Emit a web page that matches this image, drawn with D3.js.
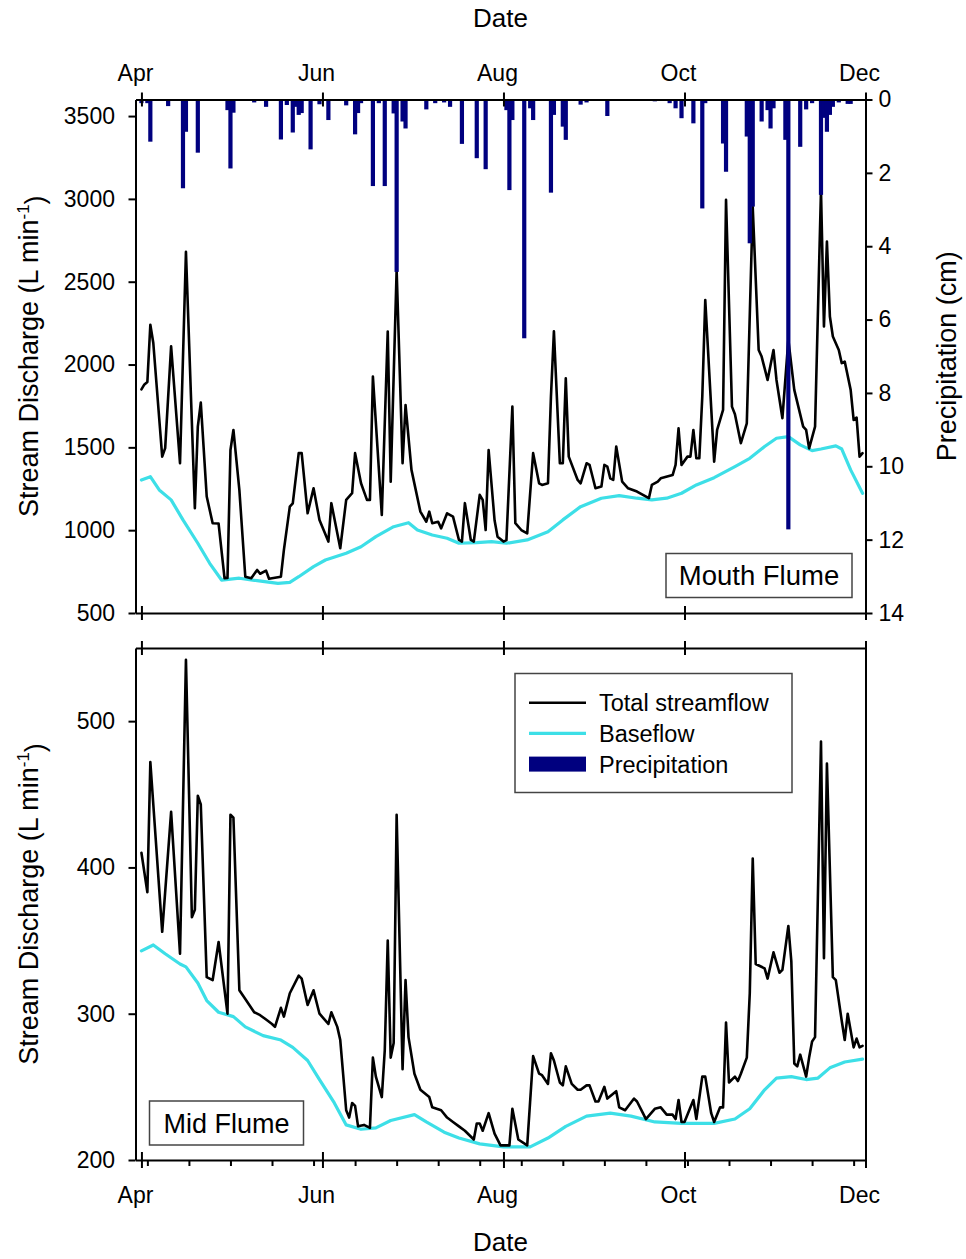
<!DOCTYPE html>
<html>
<head>
<meta charset="utf-8">
<script src="https://cdn.jsdelivr.net/npm/d3@7"></script>
<style>
  body { margin: 0; background: #fff; }
  svg { display: block; font-family: "Liberation Sans", Arial, Helvetica, sans-serif; }
</style>
</head>
<body>
<svg id="chart" width="966" height="1259"></svg>
<script>
// ---- data -------------------------------------------------------------
const year = 2011;
const monthTicks = ["4-1", "6-1", "8-1", "10-1", "12-1"];
const mouthTicks = [500, 1000, 1500, 2000, 2500, 3000, 3500];
const precipTicks = [0, 2, 4, 6, 8, 10, 12, 14];
const midTicks = [200, 300, 400, 500];

// Mouth flume: total streamflow (L/min)
const mouthTotal = [
  ["4-1",1850],["4-2",1880],["4-3",1895],["4-4",2240],["4-5",2130],["4-8",1444],["4-9",1495],
  ["4-11",2110],["4-14",1404],["4-16",2680],["4-19",1132],["4-20",1625],["4-21",1770],["4-23",1203],
  ["4-25",1042],["4-27",1040],["4-29",710],["4-30",712],["5-1",1484],["5-2",1605],["5-4",1243],
  ["5-6",719],["5-8",710],["5-10",760],["5-11",737],["5-13",756],["5-14",707],["5-16",713],
  ["5-18",719],["5-19",880],["5-21",1142],["5-22",1162],["5-24",1465],["5-25",1465],["5-27",1102],
  ["5-29",1253],["5-31",1062],["6-3",931],["6-4",1163],["6-7",891],["6-9",1183],["6-11",1223],
  ["6-12",1465],["6-14",1283],["6-16",1183],["6-17",1183],["6-18",1927],["6-21",1092],["6-23",2199],
  ["6-24",1293],["6-26",2570],["6-28",1404],["6-29",1756],["7-1",1364],["7-4",1112],["7-6",1051],
  ["7-7",1112],["7-8",1042],["7-10",1051],["7-11",1011],["7-13",1102],["7-15",1082],["7-17",941],
  ["7-18",931],["7-19",1163],["7-21",941],["7-22",931],["7-24",1213],["7-25",1183],["7-26",1001],
  ["7-27",1484],["7-29",1060],["7-30",961],["8-1",931],["8-2",940],["8-4",1746],["8-5",1042],
  ["8-7",1001],["8-9",981],["8-11",1465],["8-13",1283],["8-14",1273],["8-16",1283],["8-17",1806],
  ["8-18",2200],["8-20",1404],["8-21",1404],["8-22",1917],["8-23",1444],["8-26",1303],["8-27",1283],
  ["8-29",1404],["8-30",1394],["8-31",1324],["9-1",1253],["9-3",1263],["9-4",1394],["9-5",1384],
  ["9-6",1313],["9-7",1303],["9-8",1505],["9-10",1293],["9-12",1253],["9-15",1233],["9-17",1213],
  ["9-19",1193],["9-20",1273],["9-22",1293],["9-23",1313],["9-27",1333],["9-28",1394],["9-29",1615],
  ["9-30",1394],["10-2",1444],["10-3",1444],["10-4",1605],["10-5",1434],["10-6",1434],["10-7",1806],
  ["10-8",2390],["10-11",1414],["10-12",1605],["10-14",1726],["10-15",2994],["10-17",1746],
  ["10-18",1700],["10-20",1525],["10-22",1645],["10-24",2950],["10-26",2088],["10-27",2048],
  ["10-29",1907],["10-31",2088],["11-1",1907],["11-3",1676],["11-5",2150],["11-7",1847],
  ["11-10",1625],["11-11",1605],["11-12",1494],["11-14",1625],["11-16",3054],["11-17",2230],
  ["11-18",2743],["11-19",2290],["11-20",2169],["11-22",2088],["11-23",2008],["11-24",2018],
  ["11-26",1847],["11-27",1666],["11-28",1680],["11-29",1444],["11-30",1465]
];

// Mouth flume: baseflow (L/min)
const mouthBase = [
  ["4-1",1303],["4-4",1323],["4-7",1243],["4-11",1183],["4-15",1062],["4-20",921],["4-24",800],
  ["4-28",699],["5-4",710],["5-10",695],["5-17",679],["5-21",685],["5-24",719],["5-29",780],
  ["6-2",820],["6-9",861],["6-14",900],["6-19",961],["6-25",1021],["6-30",1045],["7-3",1001],
  ["7-8",971],["7-13",951],["7-17",921],["7-23",925],["7-28",931],["8-2",921],["8-9",941],
  ["8-16",991],["8-21",1062],["8-27",1142],["9-3",1193],["9-9",1209],["9-15",1193],["9-20",1183],
  ["9-25",1193],["9-30",1223],["10-5",1273],["10-11",1317],["10-18",1384],["10-23",1434],
  ["10-28",1505],["11-1",1555],["11-5",1565],["11-9",1515],["11-13",1480],["11-16",1490],
  ["11-21",1509],["11-23",1490],["11-26",1364],["11-30",1223]
];

// Daily precipitation (cm)
const precip = [
  ["4-1",0.1],["4-3",0.1],["4-4",1.15],["4-10",0.18],["4-15",2.42],["4-16",0.88],["4-20",1.45],
  ["4-30",0.29],["5-1",1.88],["5-2",0.36],["5-9",0.08],["5-13",0.2],["5-18",1.09],["5-20",0.15],
  ["5-22",0.9],["5-23",0.2],["5-24",0.42],["5-25",0.37],["5-28",1.36],["5-31",0.13],["6-3",0.56],
  ["6-9",0.16],["6-12",0.95],["6-13",0.37],["6-14",0.1],["6-18",2.36],["6-20",0.1],["6-22",2.36],
  ["6-25",0.38],["6-26",4.7],["6-28",0.6],["6-29",0.79],["7-6",0.27],["7-9",0.1],["7-12",0.08],
  ["7-14",0.2],["7-18",1.21],["7-23",1.6],["7-26",1.9],["8-2",0.29],["8-3",2.47],["8-4",0.56],
  ["8-8",6.51],["8-10",0.24],["8-11",0.56],["8-17",2.54],["8-18",0.42],["8-21",0.74],["8-22",1.1],
  ["8-27",0.14],["8-29",0.08],["9-5",0.45],["9-21",0.05],["9-26",0.1],["9-28",0.24],["9-30",0.51],
  ["10-4",0.65],["10-7",2.97],["10-8",0.1],["10-14",1.2],["10-15",1.97],["10-22",1.01],
  ["10-23",3.92],["10-24",2.92],["10-27",0.6],["10-29",0.29],["10-30",0.79],["10-31",0.24],
  ["11-4",1.1],["11-5",11.72],["11-9",1.29],["11-11",0.27],["11-13",0.1],["11-16",2.6],
  ["11-17",0.5],["11-18",0.88],["11-19",0.42],["11-20",0.2],["11-22",0.08],["11-25",0.12],
  ["11-26",0.12]
];

// Mid flume: total streamflow (L/min)
const midTotal = [
  ["4-1",410],["4-3",383],["4-4",472],["4-5",443],["4-8",356],["4-11",438],["4-14",341],["4-16",542],
  ["4-18",366],["4-19",371],["4-20",449],["4-21",443],["4-23",325],["4-25",323],["4-27",349],
  ["4-30",300],["5-1",436],["5-2",434],["5-4",316],["5-6",310],["5-9",301],["5-11",299],["5-13",296],
  ["5-15",293],["5-16",291],["5-18",304],["5-19",298],["5-21",314],["5-24",326],["5-25",324],
  ["5-27",306],["5-29",316],["5-31",300],["6-3",293],["6-4",301],["6-6",291],["6-7",282],["6-9",234],
  ["6-10",229],["6-11",239],["6-12",237],["6-13",223],["6-15",224],["6-17",222],["6-18",270],
  ["6-19",257],["6-21",243],["6-22",275],["6-23",350],["6-24",270],["6-25",280],["6-26",436],
  ["6-28",262],["6-29",323],["6-30",284],["7-2",259],["7-4",248],["7-7",243],["7-8",236],["7-11",234],
  ["7-13",229],["7-15",226],["7-17",223],["7-19",220],["7-22",214],["7-23",225],["7-24",225],
  ["7-25",220],["7-27",232],["7-29",218],["7-31",210],["8-3",210],["8-4",235],["8-6",214],["8-9",210],
  ["8-11",271],["8-13",259],["8-14",258],["8-16",252],["8-17",273],["8-18",268],["8-20",253],
  ["8-21",251],["8-22",264],["8-24",252],["8-26",248],["8-27",248],["8-29",251],["8-30",251],
  ["9-1",240],["9-2",240],["9-4",250],["9-5",242],["9-8",247],["9-9",236],["9-11",234],["9-14",242],
  ["9-15",240],["9-17",232],["9-18",228],["9-21",235],["9-23",236],["9-25",231],["9-27",231],
  ["9-28",228],["9-29",241],["9-30",226],["10-1",226],["10-4",241],["10-5",228],["10-7",257],
  ["10-8",257],["10-10",232],["10-11",226],["10-13",236],["10-14",236],["10-15",294],["10-16",253],
  ["10-18",257],["10-19",254],["10-20",259],["10-22",270],["10-23",314],["10-24",406],["10-25",334],
  ["10-28",331],["10-29",324],["10-31",342],["11-2",328],["11-3",330],["11-5",360],["11-6",336],
  ["11-7",266],["11-8",264],["11-9",272],["11-11",257],["11-12",270],["11-13",281],["11-14",284],
  ["11-16",486],["11-17",338],["11-18",471],["11-20",325],["11-21",323],["11-23",295],["11-24",282],
  ["11-25",300],["11-27",277],["11-28",283],["11-29",277],["11-30",278]
];

// Mid flume: baseflow (L/min)
const midBase = [
  ["4-1",343],["4-5",347],["4-9",341],["4-14",334],["4-16",332],["4-20",321],["4-23",309],
  ["4-27",301],["5-2",298],["5-6",291],["5-12",285],["5-18",282],["5-22",277],["5-27",268],
  ["5-31",255],["6-5",239],["6-9",224],["6-14",221],["6-19",222],["6-24",227],["7-2",231],
  ["7-6",226],["7-12",219],["7-17",215],["7-24",211],["8-1",209],["8-10",209],["8-16",215],
  ["8-22",223],["8-29",230],["9-6",232],["9-13",230],["9-21",226],["9-30",225],["10-11",225],
  ["10-18",228],["10-23",235],["10-28",248],["11-1",256],["11-6",257],["11-11",255],["11-15",256],
  ["11-19",263],["11-24",267],["11-30",269]
];

// ---- setup ------------------------------------------------------------
const parseDay = s => { const [m, d] = s.split("-").map(Number); return new Date(year, m - 1, d); };
const toPoints = arr => arr.map(([d, v]) => ({ date: parseDay(d), value: v }));

const BLACK = "#000", CYAN = "#3ddfe7", NAVY = "#00007f";
const left = 135.5, right = 865.5;
const top1 = 99.5, bot1 = 613;
const top2 = 648, bot2 = 1160;
const intFmt = d3.format("d");

const svg = d3.select("#chart");

const x = d3.scaleTime()
  .domain([new Date(year, 2, 30), new Date(year, 11, 1)])
  .range([left, right]);
const yMouth = d3.scaleLinear().domain([500, 3600]).range([bot1, top1]);
const yPrecip = d3.scaleLinear().domain([0, 14]).range([top1, bot1]);
const yMid = d3.scaleLinear().domain([200, 550]).range([bot2, top2]);

const months = monthTicks.map(parseDay);
const minorDays = d3.timeDay.range(new Date(year, 3, 3), new Date(year, 11, 1), 14);

function styleAxis(g, fontSize) {
  g.selectAll(".domain").attr("stroke", BLACK).attr("stroke-width", 2);
  g.selectAll(".tick line").attr("stroke", BLACK).attr("stroke-width", 2);
  g.selectAll(".tick text").attr("fill", BLACK)
    .style("font-size", fontSize + "px")
    .style("font-family", '"Liberation Sans", Arial, sans-serif');
}

// ---- series -------------------------------------------------------------
const lineMouth = d3.line().x(d => x(d.date)).y(d => yMouth(d.value));
const lineMid = d3.line().x(d => x(d.date)).y(d => yMid(d.value));

function drawLine(data, gen, color, width) {
  svg.append("path").datum(toPoints(data))
    .attr("d", gen).attr("fill", "none")
    .attr("stroke", color).attr("stroke-width", width)
    .attr("stroke-linejoin", "round").attr("stroke-linecap", "round");
}

drawLine(mouthBase, lineMouth, CYAN, 3.2);
drawLine(mouthTotal, lineMouth, BLACK, 2.6);
drawLine(midBase, lineMid, CYAN, 3.2);
drawLine(midTotal, lineMid, BLACK, 2.6);

// precipitation bars hang from the top of the upper panel
const barW = 4.2;
svg.append("g").selectAll("rect").data(toPoints(precip)).join("rect")
  .attr("x", d => x(d.date) - barW / 2)
  .attr("y", yPrecip(0))
  .attr("width", barW)
  .attr("height", d => yPrecip(d.value) - yPrecip(0))
  .attr("fill", NAVY);

// ---- upper panel axes ---------------------------------------------------
const gT1 = svg.append("g").attr("transform", `translate(0,${top1})`)
  .call(d3.axisTop(x).tickValues(months).tickFormat(d3.timeFormat("%b"))
    .tickSizeInner(7).tickSizeOuter(0).tickPadding(11.5));
gT1.selectAll(".tick line").attr("y1", 7);
gT1.selectAll(".tick text").attr("dx", -6.5);
styleAxis(gT1, 23);

const gB1 = svg.append("g").attr("transform", `translate(0,${bot1})`)
  .call(d3.axisBottom(x).tickValues(months).tickFormat("").tickSizeInner(7).tickSizeOuter(0));
gB1.selectAll(".tick line").attr("y1", -7);
styleAxis(gB1, 23);

const gL1 = svg.append("g").attr("transform", `translate(${left},0)`)
  .call(d3.axisLeft(yMouth).tickValues(mouthTicks).tickFormat(intFmt)
    .tickSizeInner(7).tickSizeOuter(0).tickPadding(13.5));
styleAxis(gL1, 23);

const gR1 = svg.append("g").attr("transform", `translate(${right},0)`)
  .call(d3.axisRight(yPrecip).tickValues(precipTicks).tickFormat(intFmt)
    .tickSizeInner(7).tickSizeOuter(0).tickPadding(6));
styleAxis(gR1, 23);

// ---- lower panel axes ---------------------------------------------------
const gT2 = svg.append("g").attr("transform", `translate(0,${top2})`)
  .call(d3.axisTop(x).tickValues(months).tickFormat("").tickSizeInner(7).tickSizeOuter(0));
gT2.selectAll(".tick line").attr("y1", 7);
styleAxis(gT2, 23);

const gMinor = svg.append("g").attr("transform", `translate(0,${bot2})`)
  .call(d3.axisBottom(x).tickValues(minorDays).tickFormat("").tickSizeInner(6).tickSizeOuter(0));
gMinor.select(".domain").remove();
styleAxis(gMinor, 23);

const gB2 = svg.append("g").attr("transform", `translate(0,${bot2})`)
  .call(d3.axisBottom(x).tickValues(months).tickFormat(d3.timeFormat("%b"))
    .tickSizeInner(8).tickSizeOuter(0).tickPadding(18.4));
gB2.selectAll(".tick line").attr("y1", -8);
gB2.selectAll(".tick text").attr("dx", -6.5);
styleAxis(gB2, 23);

const gL2 = svg.append("g").attr("transform", `translate(${left},0)`)
  .call(d3.axisLeft(yMid).tickValues(midTicks).tickFormat(intFmt)
    .tickSizeInner(7).tickSizeOuter(0).tickPadding(13.5));
styleAxis(gL2, 23);

const gR2 = svg.append("g").attr("transform", `translate(${right},0)`)
  .call(d3.axisRight(yMid).tickValues([]).tickSizeOuter(0));
styleAxis(gR2, 23);

// ---- titles -------------------------------------------------------------
const midX = (left + right) / 2;
svg.append("text").attr("x", midX).attr("y", 27).attr("text-anchor", "middle")
  .style("font-size", "26px").text("Date");
svg.append("text").attr("x", midX).attr("y", 1251).attr("text-anchor", "middle")
  .style("font-size", "26px").text("Date");

function dischargeTitle(cy) {
  const t = svg.append("text")
    .attr("transform", `translate(38,${cy}) rotate(-90)`)
    .attr("text-anchor", "middle").style("font-size", "27px");
  t.append("tspan").text("Stream Discharge (L min");
  t.append("tspan").attr("dy", "-0.55em").style("font-size", "17px").text("-1");
  t.append("tspan").attr("dy", "0.55em").text(")");
}
dischargeTitle((top1 + bot1) / 2);
dischargeTitle((top2 + bot2) / 2);

svg.append("text")
  .attr("transform", `translate(956,${(top1 + bot1) / 2}) rotate(-90)`)
  .attr("text-anchor", "middle").style("font-size", "27px")
  .text("Precipitation (cm)");

// ---- panel labels ---------------------------------------------------------
function panelLabel(x0, y0, w, h, label, size) {
  svg.append("rect").attr("x", x0).attr("y", y0).attr("width", w).attr("height", h)
    .attr("fill", "#fff").attr("stroke", "#444").attr("stroke-width", 1.5);
  svg.append("text").attr("x", x0 + w / 2).attr("y", y0 + h / 2)
    .attr("dy", "0.36em").attr("text-anchor", "middle")
    .style("font-size", size + "px").text(label);
}
panelLabel(666, 553.5, 186, 44, "Mouth Flume", 27.5);
panelLabel(149.5, 1101, 154, 44, "Mid Flume", 27);

// ---- legend ---------------------------------------------------------------
const legend = svg.append("g");
legend.append("rect").attr("x", 515).attr("y", 673.5).attr("width", 277).attr("height", 119)
  .attr("fill", "#fff").attr("stroke", "#444").attr("stroke-width", 1.5);
const legendItems = [
  { label: "Total streamflow", kind: "line", color: BLACK, w: 2.6 },
  { label: "Baseflow", kind: "line", color: CYAN, w: 3.2 },
  { label: "Precipitation", kind: "bar", color: NAVY }
];
legendItems.forEach((it, i) => {
  const cy = 702.7 + i * 30.7;
  if (it.kind === "line") {
    legend.append("line").attr("x1", 529).attr("x2", 586).attr("y1", cy).attr("y2", cy)
      .attr("stroke", it.color).attr("stroke-width", it.w);
  } else {
    legend.append("rect").attr("x", 529).attr("y", cy - 7.5).attr("width", 57).attr("height", 15)
      .attr("fill", it.color);
  }
  legend.append("text").attr("x", 599).attr("y", cy).attr("dy", "0.36em")
    .style("font-size", "23.5px").text(it.label);
});
</script>
</body>
</html>
